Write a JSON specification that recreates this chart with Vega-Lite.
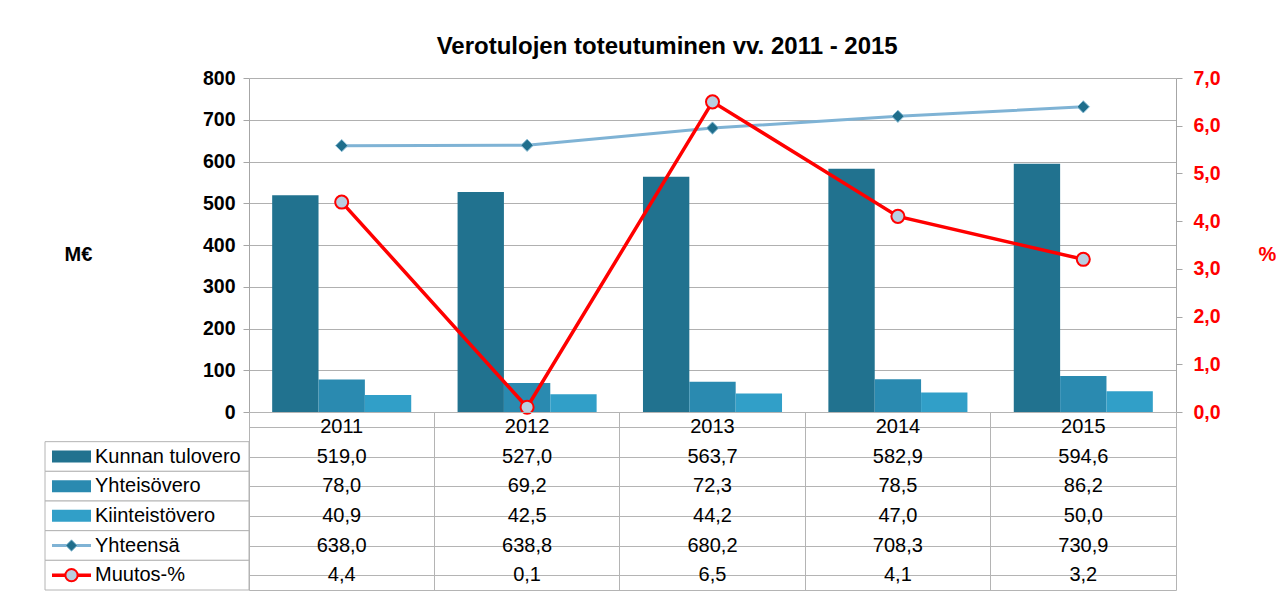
{
  "$schema": "https://vega.github.io/schema/vega-lite/v6.json",
  "padding": {"left": 44, "top": 35, "right": 0, "bottom": 0},
  "title": {"text": "Verotulojen toteutuminen  vv. 2011 - 2015", "fontSize": 24, "fontWeight": "bold", "font": "Liberation Sans", "color": "#000000", "anchor": "middle", "dx": 7, "offset": 9},
  "datasets": {
    "main": [
      {"year": "2011", "series": "Kunnan tulovero", "value": 519.0},
      {"year": "2011", "series": "Yhteisövero", "value": 78.0},
      {"year": "2011", "series": "Kiinteistövero", "value": 40.9},
      {"year": "2011", "series": "Yhteensä", "value": 638.0},
      {"year": "2011", "series": "Muutos-%", "value": 4.4},
      {"year": "2012", "series": "Kunnan tulovero", "value": 527.0},
      {"year": "2012", "series": "Yhteisövero", "value": 69.2},
      {"year": "2012", "series": "Kiinteistövero", "value": 42.5},
      {"year": "2012", "series": "Yhteensä", "value": 638.8},
      {"year": "2012", "series": "Muutos-%", "value": 0.1},
      {"year": "2013", "series": "Kunnan tulovero", "value": 563.7},
      {"year": "2013", "series": "Yhteisövero", "value": 72.3},
      {"year": "2013", "series": "Kiinteistövero", "value": 44.2},
      {"year": "2013", "series": "Yhteensä", "value": 680.2},
      {"year": "2013", "series": "Muutos-%", "value": 6.5},
      {"year": "2014", "series": "Kunnan tulovero", "value": 582.9},
      {"year": "2014", "series": "Yhteisövero", "value": 78.5},
      {"year": "2014", "series": "Kiinteistövero", "value": 47.0},
      {"year": "2014", "series": "Yhteensä", "value": 708.3},
      {"year": "2014", "series": "Muutos-%", "value": 4.1},
      {"year": "2015", "series": "Kunnan tulovero", "value": 594.6},
      {"year": "2015", "series": "Yhteisövero", "value": 86.2},
      {"year": "2015", "series": "Kiinteistövero", "value": 50.0},
      {"year": "2015", "series": "Yhteensä", "value": 730.9},
      {"year": "2015", "series": "Muutos-%", "value": 3.2}
    ]
  },
  "columns": 2,
  "spacing": 0,
  "bounds": "flush",
  "concat": [
    {
      "width": 204,
      "height": 334,
      "data": {"values": [{}]},
      "mark": {"type": "text", "text": ""}
    },
    {
      "width": 927,
      "height": 334,
      "data": {"name": "main"},
      "encoding": {
        "x": {"field": "year", "type": "nominal", "scale": {"type": "band", "paddingInner": 0.25, "paddingOuter": 0.125}, "axis": null}
      },
      "layer": [
        {
          "transform": [{"filter": {"field": "series", "oneOf": ["Kunnan tulovero", "Yhteisövero", "Kiinteistövero"]}}],
          "mark": {"type": "bar"},
          "encoding": {
            "y": {"field": "value", "type": "quantitative", "scale": {"domain": [0, 800], "nice": false},
              "axis": {"orient": "left", "values": [0, 100, 200, 300, 400, 500, 600, 700, 800], "title": "M€", "titleAngle": 0, "titleX": -171, "titleY": 176, "titleAlign": "center", "titleBaseline": "middle", "titleFontSize": 20, "titleFontWeight": "bold", "titleColor": "#000000", "labelFontSize": 19.5, "labelFontWeight": "bold", "labelColor": "#000000", "grid": true, "gridColor": "#b0b0b0", "domainColor": "#a6a6a6", "tickColor": "#a6a6a6", "tickSize": 6, "labelPadding": 8}},
            "xOffset": {"field": "series", "type": "nominal", "scale": {"domain": ["Kunnan tulovero", "Yhteisövero", "Kiinteistövero"], "paddingInner": 0, "paddingOuter": 0}},
            "color": {"field": "series", "type": "nominal", "scale": {"domain": ["Kunnan tulovero", "Yhteisövero", "Kiinteistövero"], "range": ["#21728f", "#2a8ab0", "#319fc8"]}, "legend": null}
          }
        },
        {
          "transform": [{"filter": "datum.series == 'Yhteensä'"}],
          "mark": {"type": "line", "color": "#7fb3d5", "strokeWidth": 3},
          "encoding": {"y": {"field": "value", "type": "quantitative", "scale": {"domain": [0, 800], "nice": false}, "axis": null}}
        },
        {
          "transform": [{"filter": "datum.series == 'Yhteensä'"}],
          "mark": {"type": "point", "shape": "diamond", "filled": true, "fill": "#1f6e8c", "stroke": "#8fc0d8", "strokeWidth": 1, "size": 150, "opacity": 1},
          "encoding": {"y": {"field": "value", "type": "quantitative", "scale": {"domain": [0, 800], "nice": false}, "axis": null}}
        },
        {
          "transform": [{"filter": "datum.series == 'Muutos-%'"}],
          "mark": {"type": "line", "color": "#ff0000", "strokeWidth": 3.5},
          "encoding": {"y": {"field": "value", "type": "quantitative", "scale": {"domain": [0, 7], "nice": false},
            "axis": {"orient": "right", "values": [0, 1, 2, 3, 4, 5, 6, 7], "labelExpr": "replace(format(datum.value, '.1f'), '.', ',')", "title": "%", "titleAngle": 0, "titleX": 91, "titleY": 176, "titleAlign": "center", "titleBaseline": "middle", "titleFontSize": 20, "titleFontWeight": "bold", "titleColor": "#ff0000", "labelFontSize": 19.5, "labelFontWeight": "bold", "labelColor": "#ff0000", "grid": false, "domainColor": "#a6a6a6", "tickColor": "#a6a6a6", "tickSize": 6, "labelPadding": 11}}}
        },
        {
          "transform": [{"filter": "datum.series == 'Muutos-%'"}],
          "mark": {"type": "point", "shape": "circle", "filled": true, "fill": "#b9cee0", "stroke": "#ff0000", "strokeWidth": 2, "size": 170, "opacity": 1},
          "encoding": {"y": {"field": "value", "type": "quantitative", "scale": {"domain": [0, 7], "nice": false}, "axis": null}}
        }
      ],
      "resolve": {"scale": {"y": "independent"}, "axis": {"y": "independent"}}
    },
    {
      "width": 204,
      "height": 178,
      "data": {"name": "main"},
      "transform": [{"filter": "datum.year == '2011'"}],
      "encoding": {
        "y": {"field": "series", "type": "nominal", "scale": {"domain": ["year", "Kunnan tulovero", "Yhteisövero", "Kiinteistövero", "Yhteensä", "Muutos-%"], "paddingInner": 0, "paddingOuter": 0}, "axis": null}
      },
      "layer": [
        {
          "mark": {"type": "rect", "fill": "#ffffff", "stroke": "#b4b4b4", "strokeWidth": 1},
          "encoding": {"x": {"datum": 0, "type": "quantitative", "scale": {"domain": [0, 204], "padding": 0, "nice": false, "zero": false}, "axis": null}, "x2": {"datum": 204}}
        },
        {
          "transform": [{"filter": {"field": "series", "oneOf": ["Kunnan tulovero", "Yhteisövero", "Kiinteistövero"]}}],
          "mark": {"type": "bar", "height": 12},
          "encoding": {
            "x": {"datum": 7, "type": "quantitative"}, "x2": {"datum": 46},
            "color": {"field": "series", "type": "nominal", "scale": {"domain": ["Kunnan tulovero", "Yhteisövero", "Kiinteistövero"], "range": ["#21728f", "#2a8ab0", "#319fc8"]}, "legend": null}
          }
        },
        {
          "transform": [{"filter": "datum.series == 'Yhteensä'"}],
          "mark": {"type": "rule", "color": "#7fb3d5", "strokeWidth": 3},
          "encoding": {"x": {"datum": 7, "type": "quantitative"}, "x2": {"datum": 46}}
        },
        {
          "transform": [{"filter": "datum.series == 'Yhteensä'"}],
          "mark": {"type": "point", "shape": "diamond", "filled": true, "fill": "#1f6e8c", "stroke": "#8fc0d8", "strokeWidth": 1, "size": 130, "opacity": 1},
          "encoding": {"x": {"datum": 26.5, "type": "quantitative"}}
        },
        {
          "transform": [{"filter": "datum.series == 'Muutos-%'"}],
          "mark": {"type": "rule", "color": "#ff0000", "strokeWidth": 3.5},
          "encoding": {"x": {"datum": 7, "type": "quantitative"}, "x2": {"datum": 46}}
        },
        {
          "transform": [{"filter": "datum.series == 'Muutos-%'"}],
          "mark": {"type": "point", "shape": "circle", "filled": true, "fill": "#b9cee0", "stroke": "#ff0000", "strokeWidth": 2, "size": 150, "opacity": 1},
          "encoding": {"x": {"datum": 26.5, "type": "quantitative"}}
        },
        {
          "mark": {"type": "text", "align": "left", "baseline": "middle", "fontSize": 20, "color": "#000000"},
          "encoding": {"x": {"datum": 50, "type": "quantitative"}, "text": {"field": "series"}}
        }
      ]
    },
    {
      "width": 927,
      "height": 178,
      "view": {"stroke": "#b4b4b4", "strokeWidth": 1},
      "data": {"name": "main"},
      "encoding": {
        "x": {"field": "year", "type": "nominal", "scale": {"type": "band", "paddingInner": 0, "paddingOuter": 0},
          "axis": {"orient": "top", "grid": true, "gridColor": "#b4b4b4", "bandPosition": 0, "labels": false, "ticks": false, "domain": false, "title": null}},
        "y": {"field": "series", "type": "nominal", "scale": {"domain": ["year", "Kunnan tulovero", "Yhteisövero", "Kiinteistövero", "Yhteensä", "Muutos-%"], "paddingInner": 0, "paddingOuter": 0},
          "axis": {"grid": true, "gridColor": "#b4b4b4", "bandPosition": 0, "labels": false, "ticks": false, "domain": false, "title": null}}
      },
      "layer": [
        {
          "mark": {"type": "text", "fontSize": 20, "color": "#000000", "baseline": "middle"},
          "encoding": {"text": {"field": "value", "type": "quantitative", "format": ".1f"}}
        },
        {
          "transform": [{"filter": "datum.series == 'Kunnan tulovero'"}],
          "mark": {"type": "text", "fontSize": 20, "color": "#000000", "baseline": "middle"},
          "encoding": {"y": {"datum": "year"}, "text": {"field": "year", "type": "nominal"}}
        }
      ]
    }
  ],
  "config": {
    "font": "Liberation Sans",
    "view": {"stroke": null},
    "locale": {"number": {"decimal": ",", "thousands": " ", "grouping": [3], "currency": ["", " €"]}}
  }
}
